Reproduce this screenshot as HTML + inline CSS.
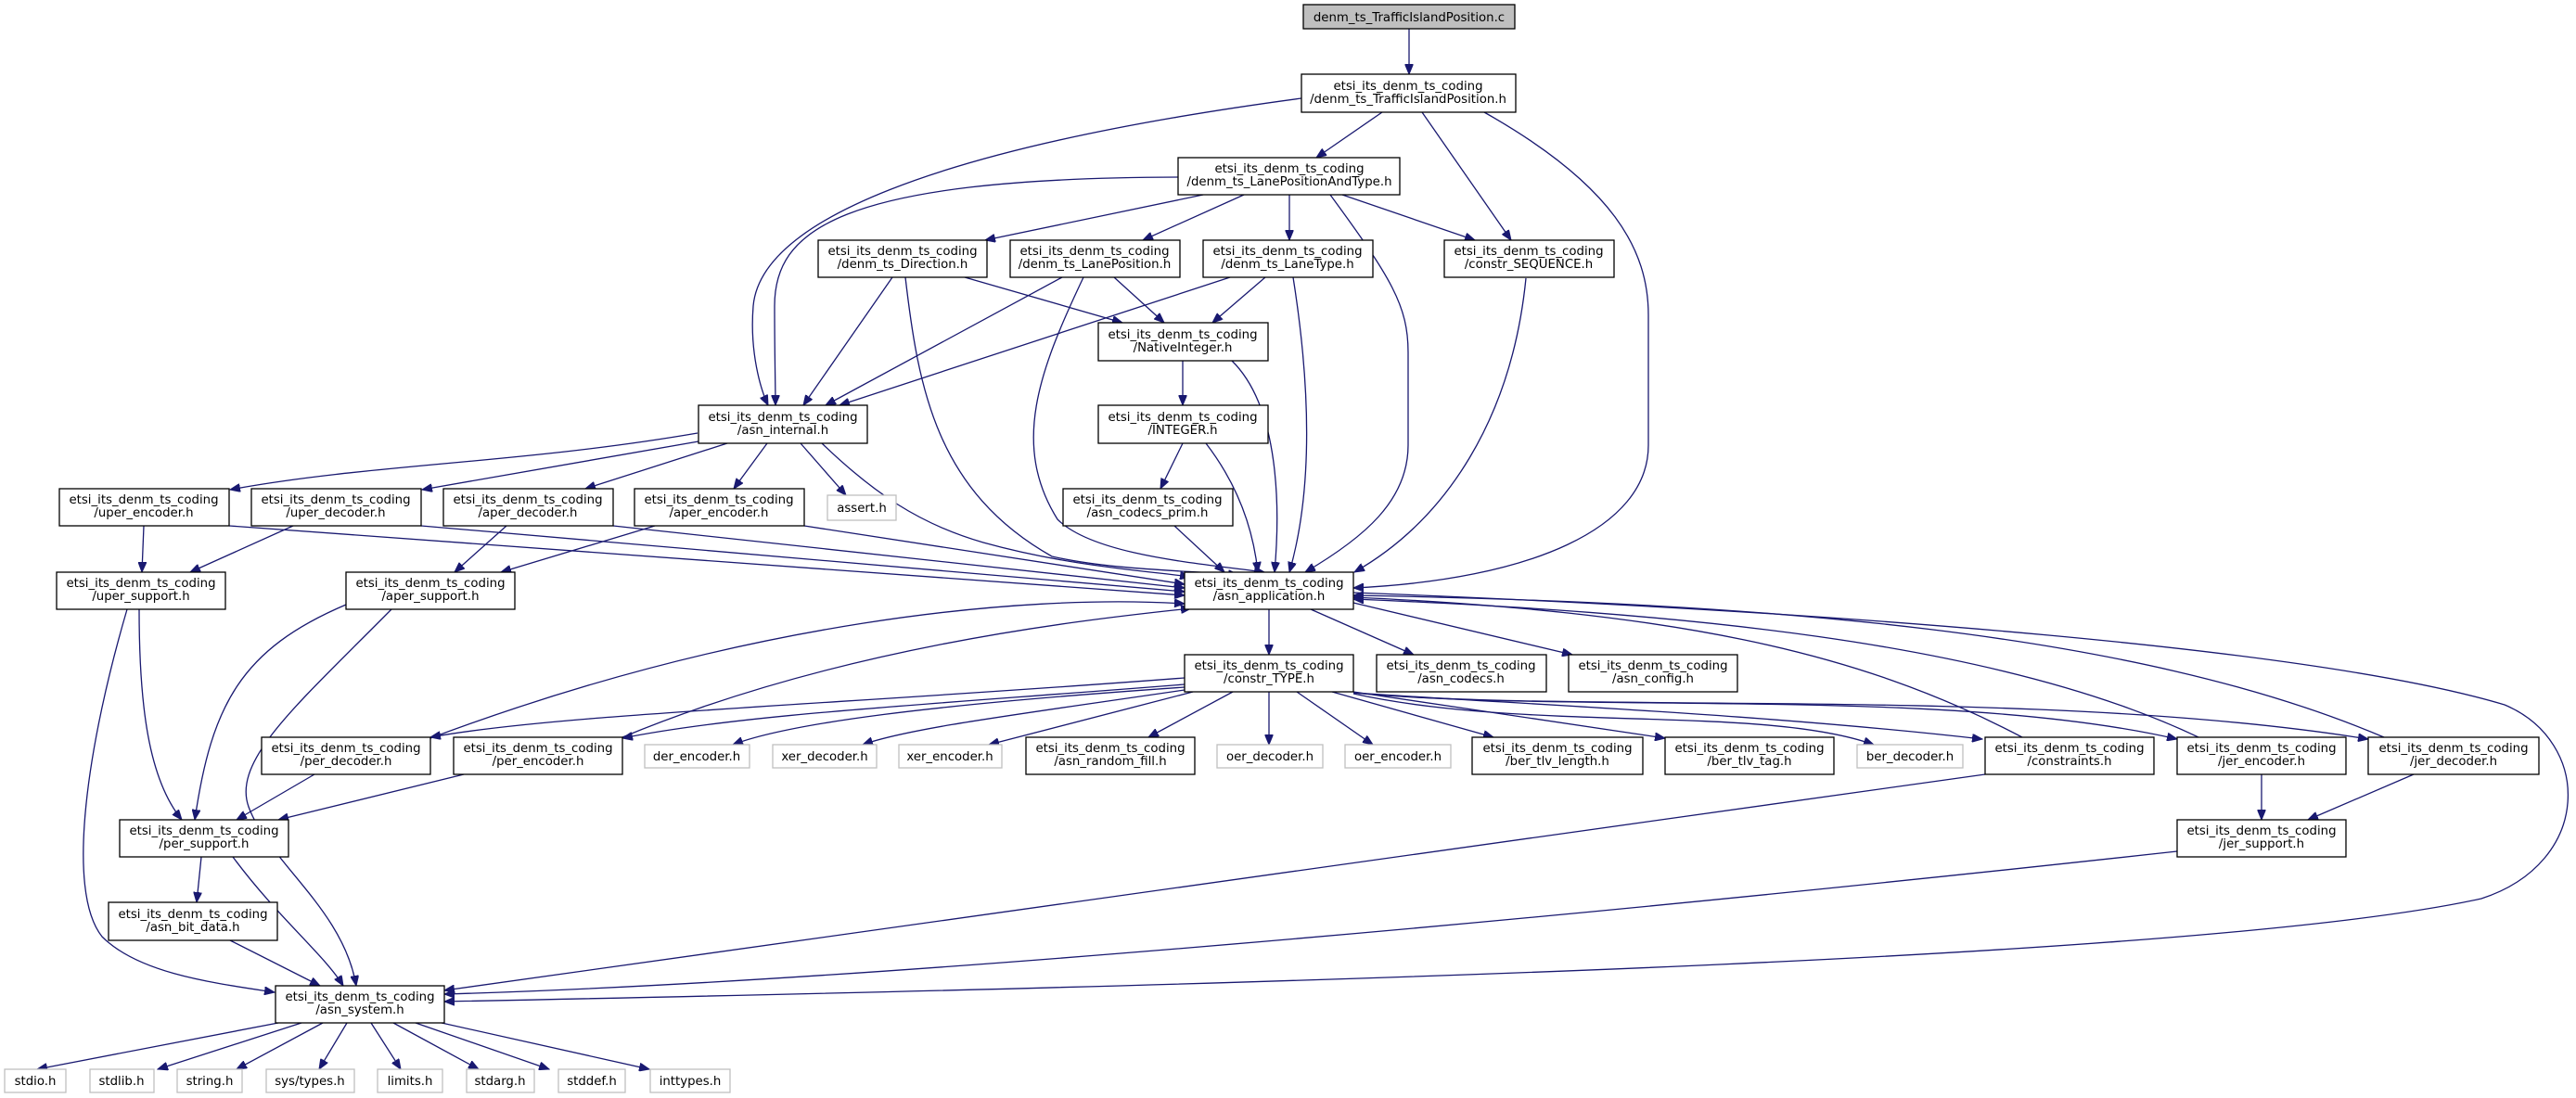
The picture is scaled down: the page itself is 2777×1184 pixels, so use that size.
<!DOCTYPE html>
<html><head><meta charset="utf-8"><style>
html,body{margin:0;padding:0;background:#fff}
svg{display:block}
text{font-family:"DejaVu Sans","Liberation Sans",sans-serif;font-size:13.3px;fill:#000;text-anchor:middle}
.n{fill:#fff;stroke:#000;stroke-width:1.3}
.g{fill:#fff;stroke:#bfbfbf;stroke-width:1.3}
.e{fill:none;stroke:#191970;stroke-width:1.3}
</style></head><body>
<svg width="2777" height="1184" viewBox="0 0 2777 1184" xmlns="http://www.w3.org/2000/svg">
<defs><marker id="a" markerWidth="12" markerHeight="9" refX="11" refY="4.5" orient="auto" markerUnits="userSpaceOnUse"><path d="M0,0 L11,4.5 L0,9 z" fill="#191970" stroke="#191970"/></marker></defs>
<g class="e" marker-end="url(#a)">
<path d="M1519,31 L1519,80"/>
<path d="M1490,121 L1419,170"/>
<path d="M1403,106 C1000,160 820,240 812,330 C808,380 820,420 828,437"/>
<path d="M1533,121 L1629,259"/>
<path d="M1600,121 C1740,200 1777,270 1777,340 L1777,480 C1777,570 1650,625 1459,634"/>
<path d="M1270,191 C900,192 835,250 835,330 C835,380 836,420 836,437"/>
<path d="M1297,210 L1062,259"/>
<path d="M1341,210 L1232,259"/>
<path d="M1390,210 L1390,259"/>
<path d="M1447,210 L1590,259"/>
<path d="M1434,210 C1500,300 1518,330 1518,380 L1518,480 C1518,540 1470,580 1407,617"/>
<path d="M1040,299 L1210,348"/>
<path d="M962,299 L866,437"/>
<path d="M976,299 C990,420 1010,530 1134,600 C1200,615 1280,615 1335,620"/>
<path d="M1201,299 L1255,348"/>
<path d="M1145,299 L890,437"/>
<path d="M1168,299 C1120,400 1090,480 1140,560 C1180,600 1300,608 1363,617"/>
<path d="M1364,299 L1307,348"/>
<path d="M1326,299 L905,437"/>
<path d="M1394,299 C1410,400 1418,520 1390,617"/>
<path d="M1645,300 C1630,450 1560,560 1460,617"/>
<path d="M1275,389 L1275,437"/>
<path d="M1328,389 C1380,440 1380,550 1374,617"/>
<path d="M1275,478 L1251,527"/>
<path d="M1300,478 C1340,530 1352,580 1356,617"/>
<path d="M1266,567 L1320,617"/>
<path d="M752,467 C560,500 400,500 248,528"/>
<path d="M753,476 L455,528"/>
<path d="M784,478 L631,527"/>
<path d="M827,478 L791,527"/>
<path d="M863,478 L912,534"/>
<path d="M886,478 C940,530 990,565 1060,585 C1150,610 1230,615 1283,622"/>
<path d="M155,567 L153,617"/>
<path d="M247,567 L1277,642"/>
<path d="M316,567 L205,617"/>
<path d="M454,567 L1277,638"/>
<path d="M546,567 L490,617"/>
<path d="M661,567 L1277,634"/>
<path d="M706,567 L540,617"/>
<path d="M867,567 L1277,630"/>
<path d="M150,657 C150,760 160,840 196,884"/>
<path d="M373,652 C260,700 228,760 210,884"/>
<path d="M137,657 C95,800 70,960 110,1010 C150,1050 230,1060 296,1070"/>
<path d="M422,657 C320,760 250,820 268,870 C290,930 370,980 384,1063"/>
<path d="M339,835 L255,884"/>
<path d="M464,796 C800,670 1100,640 1277,651"/>
<path d="M500,835 L300,884"/>
<path d="M671,795 C900,700 1150,670 1284,656"/>
<path d="M1277,731 C900,760 600,770 464,795"/>
<path d="M1277,738 C1000,760 800,770 671,796"/>
<path d="M1277,741 C1000,760 850,780 790,803"/>
<path d="M1277,744 C1100,770 980,785 930,803"/>
<path d="M1286,746 L1066,803"/>
<path d="M1329,746 L1238,795"/>
<path d="M1368,746 L1368,803"/>
<path d="M1398,746 L1480,803"/>
<path d="M1436,746 L1610,795"/>
<path d="M1459,746 L1795,796"/>
<path d="M1459,748 C1650,790 1900,760 2020,803"/>
<path d="M1459,747 C1650,760 1900,770 2137,797"/>
<path d="M1459,747 C1700,770 2100,740 2347,797"/>
<path d="M1459,747 C1700,770 2200,740 2553,797"/>
<path d="M1368,657 L1368,706"/>
<path d="M1413,657 L1524,706"/>
<path d="M1459,650 L1695,706"/>
<path d="M1459,639 C2000,660 2500,700 2700,760 C2795,800 2795,930 2675,969 C2400,1030 1500,1060 479,1080"/>
<path d="M2180,795 C2000,700 1800,660 1459,644"/>
<path d="M2370,795 C2150,690 1800,660 1459,646"/>
<path d="M2570,795 C2300,680 1900,650 1459,642"/>
<path d="M2140,835 L479,1068"/>
<path d="M2438,835 L2438,884"/>
<path d="M2602,835 L2488,884"/>
<path d="M2347,918 C1600,1000 900,1060 479,1072"/>
<path d="M217,924 L212,973"/>
<path d="M251,924 C300,990 350,1030 370,1063"/>
<path d="M248,1014 L345,1063"/>
<path d="M300,1103 L40,1153"/>
<path d="M325,1103 L170,1153"/>
<path d="M348,1103 L255,1153"/>
<path d="M374,1103 L344,1153"/>
<path d="M400,1103 L432,1153"/>
<path d="M424,1103 L516,1153"/>
<path d="M448,1103 L592,1153"/>
<path d="M476,1103 L700,1153"/>
</g>
<rect x="1405" y="5" width="228" height="26" fill="#bfbfbf" stroke="#000" stroke-width="1.3"/>
<text x="1519" y="23">denm_ts_TrafficIslandPosition.c</text>
<g>
<rect class="n" x="1403" y="80" width="231" height="41"/><text x="1518" y="97">etsi_its_denm_ts_coding</text><text x="1518" y="111">/denm_ts_TrafficIslandPosition.h</text>
<rect class="n" x="1270" y="170" width="239" height="40"/><text x="1390" y="186">etsi_its_denm_ts_coding</text><text x="1390" y="200">/denm_ts_LanePositionAndType.h</text>
<rect class="n" x="882" y="259" width="182" height="40"/><text x="973" y="275">etsi_its_denm_ts_coding</text><text x="973" y="289">/denm_ts_Direction.h</text>
<rect class="n" x="1089" y="259" width="183" height="40"/><text x="1180" y="275">etsi_its_denm_ts_coding</text><text x="1180" y="289">/denm_ts_LanePosition.h</text>
<rect class="n" x="1297" y="259" width="183" height="40"/><text x="1388" y="275">etsi_its_denm_ts_coding</text><text x="1388" y="289">/denm_ts_LaneType.h</text>
<rect class="n" x="1557" y="259" width="183" height="40"/><text x="1648" y="275">etsi_its_denm_ts_coding</text><text x="1648" y="289">/constr_SEQUENCE.h</text>
<rect class="n" x="1184" y="348" width="183" height="41"/><text x="1275" y="365">etsi_its_denm_ts_coding</text><text x="1275" y="379">/NativeInteger.h</text>
<rect class="n" x="1184" y="437" width="183" height="41"/><text x="1275" y="454">etsi_its_denm_ts_coding</text><text x="1275" y="468">/INTEGER.h</text>
<rect class="n" x="753" y="437" width="182" height="41"/><text x="844" y="454">etsi_its_denm_ts_coding</text><text x="844" y="468">/asn_internal.h</text>
<rect class="n" x="1146" y="527" width="183" height="40"/><text x="1237" y="543">etsi_its_denm_ts_coding</text><text x="1237" y="557">/asn_codecs_prim.h</text>
<rect class="n" x="64" y="527" width="183" height="40"/><text x="155" y="543">etsi_its_denm_ts_coding</text><text x="155" y="557">/uper_encoder.h</text>
<rect class="n" x="271" y="527" width="183" height="40"/><text x="362" y="543">etsi_its_denm_ts_coding</text><text x="362" y="557">/uper_decoder.h</text>
<rect class="n" x="478" y="527" width="183" height="40"/><text x="569" y="543">etsi_its_denm_ts_coding</text><text x="569" y="557">/aper_decoder.h</text>
<rect class="n" x="684" y="527" width="183" height="40"/><text x="775" y="543">etsi_its_denm_ts_coding</text><text x="775" y="557">/aper_encoder.h</text>
<rect class="g" x="892" y="534" width="74" height="27"/><text x="929" y="552">assert.h</text>
<rect class="n" x="61" y="617" width="182" height="40"/><text x="152" y="633">etsi_its_denm_ts_coding</text><text x="152" y="647">/uper_support.h</text>
<rect class="n" x="373" y="617" width="182" height="40"/><text x="464" y="633">etsi_its_denm_ts_coding</text><text x="464" y="647">/aper_support.h</text>
<rect class="n" x="1277" y="617" width="182" height="40"/><text x="1368" y="633">etsi_its_denm_ts_coding</text><text x="1368" y="647">/asn_application.h</text>
<rect class="n" x="1277" y="706" width="182" height="40"/><text x="1368" y="722">etsi_its_denm_ts_coding</text><text x="1368" y="736">/constr_TYPE.h</text>
<rect class="n" x="1484" y="706" width="183" height="40"/><text x="1575" y="722">etsi_its_denm_ts_coding</text><text x="1575" y="736">/asn_codecs.h</text>
<rect class="n" x="1691" y="706" width="182" height="40"/><text x="1782" y="722">etsi_its_denm_ts_coding</text><text x="1782" y="736">/asn_config.h</text>
<rect class="n" x="282" y="795" width="182" height="40"/><text x="373" y="811">etsi_its_denm_ts_coding</text><text x="373" y="825">/per_decoder.h</text>
<rect class="n" x="489" y="795" width="182" height="40"/><text x="580" y="811">etsi_its_denm_ts_coding</text><text x="580" y="825">/per_encoder.h</text>
<rect class="g" x="695" y="803" width="113" height="25"/><text x="751" y="820">der_encoder.h</text>
<rect class="g" x="833" y="803" width="112" height="25"/><text x="889" y="820">xer_decoder.h</text>
<rect class="g" x="969" y="803" width="111" height="25"/><text x="1024" y="820">xer_encoder.h</text>
<rect class="n" x="1106" y="795" width="182" height="40"/><text x="1197" y="811">etsi_its_denm_ts_coding</text><text x="1197" y="825">/asn_random_fill.h</text>
<rect class="g" x="1312" y="803" width="114" height="25"/><text x="1369" y="820">oer_decoder.h</text>
<rect class="g" x="1450" y="803" width="114" height="25"/><text x="1507" y="820">oer_encoder.h</text>
<rect class="n" x="1587" y="795" width="184" height="40"/><text x="1679" y="811">etsi_its_denm_ts_coding</text><text x="1679" y="825">/ber_tlv_length.h</text>
<rect class="n" x="1795" y="795" width="182" height="40"/><text x="1886" y="811">etsi_its_denm_ts_coding</text><text x="1886" y="825">/ber_tlv_tag.h</text>
<rect class="g" x="2002" y="803" width="114" height="25"/><text x="2059" y="820">ber_decoder.h</text>
<rect class="n" x="2140" y="795" width="182" height="40"/><text x="2231" y="811">etsi_its_denm_ts_coding</text><text x="2231" y="825">/constraints.h</text>
<rect class="n" x="2347" y="795" width="182" height="40"/><text x="2438" y="811">etsi_its_denm_ts_coding</text><text x="2438" y="825">/jer_encoder.h</text>
<rect class="n" x="2553" y="795" width="184" height="40"/><text x="2645" y="811">etsi_its_denm_ts_coding</text><text x="2645" y="825">/jer_decoder.h</text>
<rect class="n" x="129" y="884" width="182" height="40"/><text x="220" y="900">etsi_its_denm_ts_coding</text><text x="220" y="914">/per_support.h</text>
<rect class="n" x="2347" y="884" width="182" height="40"/><text x="2438" y="900">etsi_its_denm_ts_coding</text><text x="2438" y="914">/jer_support.h</text>
<rect class="n" x="117" y="973" width="182" height="41"/><text x="208" y="990">etsi_its_denm_ts_coding</text><text x="208" y="1004">/asn_bit_data.h</text>
<rect class="n" x="297" y="1063" width="182" height="40"/><text x="388" y="1079">etsi_its_denm_ts_coding</text><text x="388" y="1093">/asn_system.h</text>
<rect class="g" x="5" y="1153" width="66" height="25"/><text x="38" y="1170">stdio.h</text>
<rect class="g" x="97" y="1153" width="69" height="25"/><text x="131" y="1170">stdlib.h</text>
<rect class="g" x="191" y="1153" width="70" height="25"/><text x="226" y="1170">string.h</text>
<rect class="g" x="287" y="1153" width="95" height="25"/><text x="334" y="1170">sys/types.h</text>
<rect class="g" x="407" y="1153" width="70" height="25"/><text x="442" y="1170">limits.h</text>
<rect class="g" x="503" y="1153" width="73" height="25"/><text x="539" y="1170">stdarg.h</text>
<rect class="g" x="602" y="1153" width="72" height="25"/><text x="638" y="1170">stddef.h</text>
<rect class="g" x="701" y="1153" width="86" height="25"/><text x="744" y="1170">inttypes.h</text>
</g>
</svg>
</body></html>
